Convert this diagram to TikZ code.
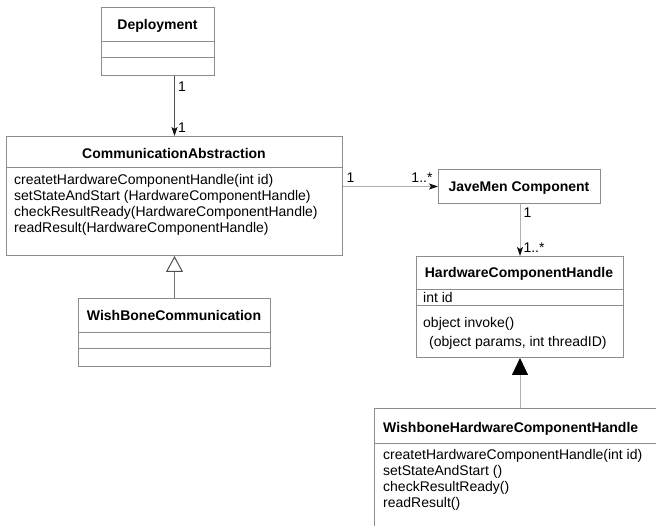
\documentclass[tikz,border=0pt]{standalone}
\usepackage{fontspec}
\setmainfont{Liberation Sans}
\usetikzlibrary{arrows.meta, calc}
\definecolor{boxgray}{HTML}{8C8C8C}
\definecolor{lineclr}{HTML}{B0B0B0}
\definecolor{darkclr}{HTML}{505050}
\definecolor{tipclr}{HTML}{101010}
\tikzset{
  classbox/.style={
    rectangle, draw=boxgray, line width=1pt, fill=white,
    anchor=north west, inner sep=0pt
  },
  sep/.style={boxgray, line width=1pt},
  ttl/.style={font=\fontsize{14}{16}\selectfont\bfseries, anchor=base, inner sep=0pt},
  mbr/.style={anchor=base west, align=left, inner sep=0pt},
  mult/.style={inner sep=3pt, text=black},
  assoc/.style={-{Stealth[length=9pt, width=6pt, inset=2pt, color=tipclr]}, lineclr, line width=1pt},
  inherit/.style={-{Triangle[open, length=16pt, width=17pt, color=darkclr]}, darkclr!80, line width=1pt},
  realize/.style={-{Triangle[length=17pt, width=16pt, color=black]}, lineclr, line width=1pt},
}

\begin{document}
\begin{tikzpicture}[x=1pt, y=-1pt, font=\fontsize{14}{16}\selectfont]

\useasboundingbox[fill=white] (0,0) rectangle (656,526);
\clip (0,0) rectangle (656,526);

% --- Classes ---
\node[classbox, minimum width=113pt, minimum height=68pt] (deploy) at (101,7) {};
\node[ttl] (deployttl) at (157.5,30) {Deployment};
\draw[sep] ([yshift=-35pt]deploy.north west) -- ([yshift=-35pt]deploy.north east);
\draw[sep] ([yshift=-51pt]deploy.north west) -- ([yshift=-51pt]deploy.north east);

\node[classbox, minimum width=336pt, minimum height=119pt] (commabs) at (6,136) {};
\node[ttl] (commabsttl) at (174,159) {CommunicationAbstraction};
\draw[sep] ([yshift=-32pt]commabs.north west) -- ([yshift=-32pt]commabs.north east);
% base of a multi-line node = last line
\node[mbr] (commabsops) at (14,233) {createtHardwareComponentHandle(int id)\\
  setStateAndStart (HardwareComponentHandle)\\
  checkResultReady(HardwareComponentHandle)\\
  readResult(HardwareComponentHandle)};

\node[classbox, minimum width=192pt, minimum height=68pt] (wbc) at (78,298) {};
\node[ttl] (wbcttl) at (174,321) {WishBoneCommunication};
\draw[sep] ([yshift=-35pt]wbc.north west) -- ([yshift=-35pt]wbc.north east);
\draw[sep] ([yshift=-51pt]wbc.north west) -- ([yshift=-51pt]wbc.north east);

\node[classbox, minimum width=162pt, minimum height=34pt] (javemen) at (438,169) {};
\node[ttl] (javementtl) at (519,192) {JaveMen Component};

\node[classbox, minimum width=207pt, minimum height=101pt] (hch) at (416,256) {};
\node[ttl] (hchttl) at (519,278) {HardwareComponentHandle};
\draw[sep] ([yshift=-34pt]hch.north west) -- ([yshift=-34pt]hch.north east);
\node[mbr] (hchattr) at (423,303) {int id};
\draw[sep] ([yshift=-50pt]hch.north west) -- ([yshift=-50pt]hch.north east);
\node[mbr] (hchops) at (423,347) {object invoke()\\[3pt]
  \hspace*{6pt}(object params, int threadID)};

\node[classbox, minimum width=300pt, minimum height=140pt] (whch) at (374,408) {};
\node[ttl, anchor=base west] (whchttl) at (383,432) {WishboneHardwareComponentHandle};
\draw[sep] ([yshift=-35pt]whch.north west) -- ([yshift=-35pt]whch.north east);
\node[mbr] (whchops) at (383,507) {createtHardwareComponentHandle(int id)\\
  setStateAndStart ()\\
  checkResultReady()\\
  readResult()};

% --- Associations ---
\draw[assoc, darkclr] (deploy.south -| commabs.north) -- (commabs.north)
  node[mult, pos=0, anchor=north west, yshift=-2pt] {1}
  node[mult, pos=1, anchor=south west] {1};
\draw[assoc] (commabs.east |- javemen.west) -- (javemen.west)
  node[mult, pos=0, anchor=south west] {1}
  node[mult, pos=1, anchor=south east, xshift=-2pt] {1..*};
\draw[assoc] (javemen.south -| hch.north) -- (hch.north)
  node[mult, pos=0, anchor=north west] {1}
  node[mult, pos=1, anchor=south west] {1..*};

% --- Generalizations ---
\draw[inherit] (wbc.north) -- (commabs.south);
\draw[realize] (whch.north -| hch.south) -- (hch.south);

\end{tikzpicture}
\end{document}
